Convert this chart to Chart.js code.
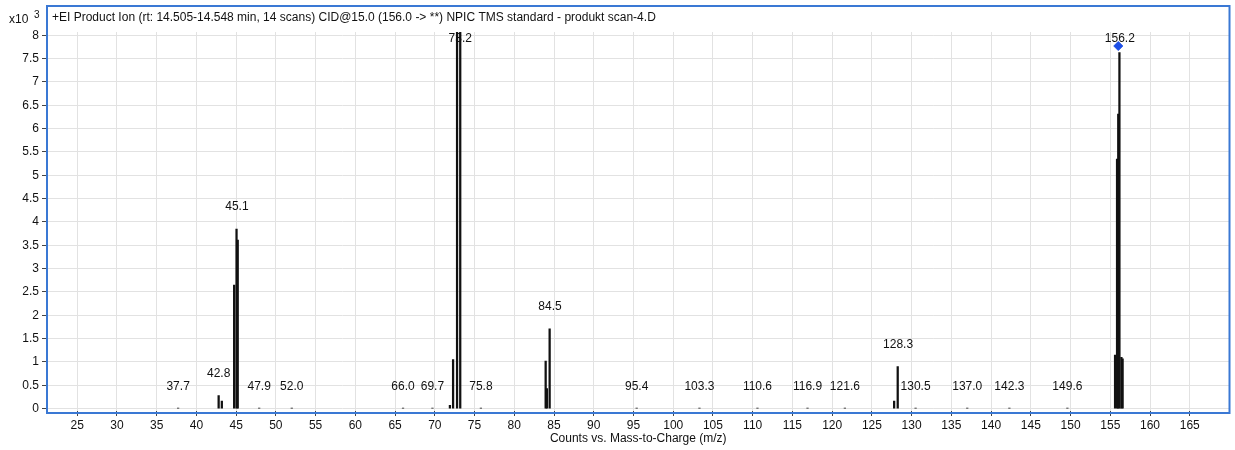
<!DOCTYPE html>
<html>
<head>
<meta charset="utf-8">
<script src="https://cdn.jsdelivr.net/npm/chart.js@4.4.1/dist/chart.umd.min.js"></script>
<style>
    html, body { margin: 0; padding: 0; background: #fff; }
    #wrap { width: 1235px; height: 450px; position: relative; }
</style>
</head>
<body>
<div id="wrap"><canvas id="spectrum"></canvas></div>
<script>
// peaks (m/z, counts x10^3)
const peakMz = [37.7, 42.8, 43.2, 44.75, 45.05, 45.2, 47.9, 52.0, 66.0, 69.7, 71.9, 72.3, 72.8, 73.2, 75.8,
    83.95, 84.1, 84.45, 95.4, 103.3, 110.6, 116.9, 121.6, 127.8, 128.25, 130.5, 137.0, 142.3, 149.6,
    155.6, 155.85, 156.0, 156.15, 156.4, 156.55];
const peakCounts = [0.01, 0.28, 0.16, 2.65, 3.85, 3.61, 0.01, 0.01, 0.01, 0.01, 0.07, 1.05, 8.2, 8.2, 0.01,
    1.02, 0.43, 1.71, 0.01, 0.01, 0.01, 0.01, 0.01, 0.16, 0.9, 0.01, 0.01, 0.01, 0.01,
    1.15, 5.35, 6.31, 7.63, 1.1, 1.07];

// annotated peaks
const labelMz = [37.7, 42.8, 45.1, 47.9, 52.0, 66.0, 69.7, 73.2, 75.8, 84.5, 95.4, 103.3, 110.6,
    116.9, 121.6, 128.3, 130.5, 137.0, 142.3, 149.6, 156.2];
const labelCounts = [0.01, 0.28, 3.85, 0.01, 0.01, 0.01, 0.01, 8.2, 0.01, 1.71, 0.01, 0.01, 0.01,
    0.01, 0.01, 0.9, 0.01, 0.01, 0.01, 0.01, 7.63];

// precursor marker
const precursorMz = [156.0];
const precursorCounts = [7.77];

const xTicks = [25, 30, 35, 40, 45, 50, 55, 60, 65, 70, 75, 80, 85, 90, 95, 100, 105, 110, 115, 120,
    125, 130, 135, 140, 145, 150, 155, 160, 165];
const yTicks = [0, 0.5, 1, 1.5, 2, 2.5, 3, 3.5, 4, 4.5, 5, 5.5, 6, 6.5, 7, 7.5, 8];

const titleText = '+EI Product Ion (rt: 14.505-14.548 min, 14 scans) CID@15.0 (156.0 -> **) NPIC TMS standard - produkt scan-4.D';
const xTitle = 'Counts vs. Mass-to-Charge (m/z)';

const FONT = '"Liberation Sans", Arial, sans-serif';

const decorations = {
    id: 'decorations',
    afterDraw(chart) {
        const ctx = chart.ctx;
        const area = chart.chartArea;
        const x = chart.scales.x;
        const y = chart.scales.y;
        ctx.save();

        // peak labels
        ctx.font = '12px ' + FONT;
        ctx.fillStyle = '#111';
        ctx.textAlign = 'center';
        ctx.textBaseline = 'middle';
        labelMz.forEach((mz, i) => {
            let py = y.getPixelForValue(labelCounts[i]) - 22;
            if (py < area.top + 7) py = area.top + 7;
            ctx.fillText(mz.toFixed(1), x.getPixelForValue(mz), py);
        });

        // frame
        ctx.strokeStyle = '#3a78d4';
        ctx.lineWidth = 2;
        ctx.strokeRect(47, 6, area.right - 47, area.bottom + 2 - 6);

        // title
        ctx.textAlign = 'left';
        ctx.fillText(titleText, 52, 18);

        // exponent
        ctx.fillText('x10', 9, 20);
        ctx.font = '10px ' + FONT;
        ctx.fillText('3', 34, 15);

        // x axis title
        ctx.font = '12px ' + FONT;
        ctx.textAlign = 'center';
        ctx.fillText(xTitle, (area.left + area.right) / 2, 439);
        ctx.restore();
    }
};

new Chart(document.getElementById('spectrum'), {
    type: 'bar',
    data: {
        datasets: [
            {
                type: 'scatter',
                data: precursorMz.map((v, i) => ({x: v, y: precursorCounts[i]})),
                pointStyle: 'rectRot',
                pointRadius: 4.5,
                backgroundColor: '#1d4fe6',
                borderColor: '#1d4fe6',
                order: 0
            },
            {
                data: peakMz.map((v, i) => ({x: v, y: peakCounts[i]})),
                backgroundColor: '#111',
                barThickness: 1.6,
                order: 1
            }
        ]
    },
    options: {
        responsive: true,
        maintainAspectRatio: false,
        animation: false,
        layout: {padding: {top: 32, right: 2, left: 0, bottom: 0}},
        plugins: {
            legend: {display: false},
            tooltip: {enabled: false}
        },
        scales: {
            x: {
                type: 'linear',
                offset: false,
                min: 21.2,
                max: 170,
                afterBuildTicks: s => { s.ticks = xTicks.map(v => ({value: v})); },
                afterFit: s => { s.height = 39; },
                grid: {color: '#e2e2e2', tickColor: '#444', tickLength: 5, offset: false},
                border: {display: false},
                ticks: {
                    color: '#111',
                    font: {family: FONT, size: 12},
                    padding: 2,
                    maxRotation: 0,
                    callback: v => String(v)
                }
            },
            y: {
                min: -0.05,
                max: 8.07,
                afterBuildTicks: s => { s.ticks = yTicks.map(v => ({value: v})); },
                afterFit: s => { s.width = 47; },
                grid: {color: '#e2e2e2', tickColor: '#444', tickLength: 5},
                border: {display: false},
                ticks: {
                    color: '#111',
                    font: {family: FONT, size: 12},
                    padding: 3,
                    callback: v => String(v)
                }
            }
        }
    },
    plugins: [decorations]
});
</script>
</body>
</html>
